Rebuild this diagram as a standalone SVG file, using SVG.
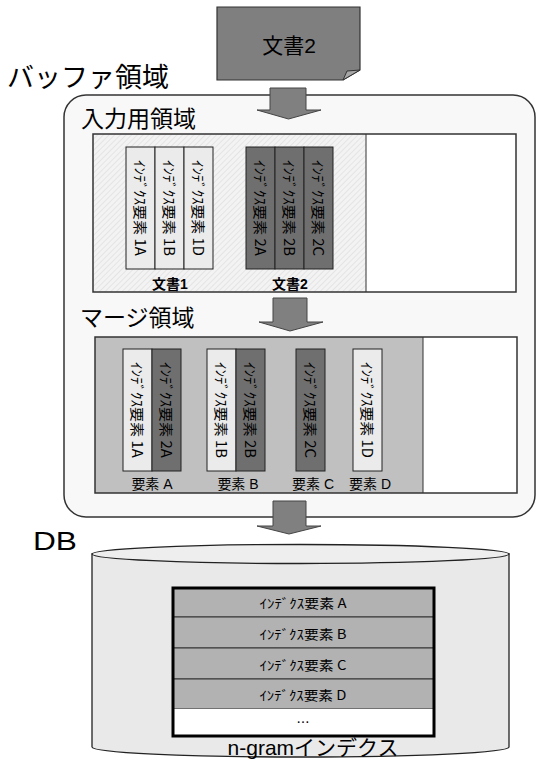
<svg xmlns="http://www.w3.org/2000/svg" width="536" height="760" viewBox="0 0 536 760">
<defs>
<pattern id="hatch" width="4" height="4" patternUnits="userSpaceOnUse" patternTransform="rotate(45)">
<rect width="4" height="4" fill="#f3f3f3"/>
<line x1="0" y1="0" x2="0" y2="4" stroke="#d6d6d6" stroke-width="1"/>
</pattern>
<style>
text{font-family:"Liberation Sans","Noto Sans CJK JP",sans-serif;fill:#000}
.big{font-size:27px}
.mid{font-size:23px}
.vt{font-family:"Noto Sans CJK JP",sans-serif;font-size:14px;dominant-baseline:central}
.lbl{font-size:14px;text-anchor:middle}
.row{font-family:"Noto Sans CJK JP",sans-serif;font-size:13px;text-anchor:middle;dominant-baseline:central}
.light{fill:#ebebeb;stroke:#222;stroke-width:1}
.dark{fill:#6f6f6f;stroke:#222;stroke-width:1}
.arrow{fill:#808080;stroke:#444;stroke-width:1}
.rowbox{fill:#b2b2b2;stroke:#333;stroke-width:1}
</style>
</defs>
<rect width="536" height="760" fill="#fff"/>

<g id="buffer">
<rect x="64" y="95" width="471" height="422" rx="22" fill="#f8f8f8" stroke="#333" stroke-width="1.5"/>
<text class="big" x="7" y="87">バッファ領域</text>
</g>

<g id="doc2">
<path d="M217,7 H360 V70 L343,80 H217 Z" fill="#7f7f7f" stroke="#333" stroke-width="1.2"/>
<path d="M360,70 L343,80 L347,71 Z" fill="#a6a6a6" stroke="#333" stroke-width="1"/>
<text x="289" y="53" font-size="21" text-anchor="middle">文書2</text>
</g>

<g id="input-area">
<text class="mid" x="81" y="127">入力用領域</text>
<rect x="93" y="134" width="273" height="158" fill="url(#hatch)"/>
<rect x="366" y="134" width="150" height="158" fill="#fff"/>
<rect x="93" y="134" width="423" height="158" fill="none" stroke="#333" stroke-width="1.5"/>
<line x1="366" y1="134" x2="366" y2="292" stroke="#333" stroke-width="1"/>
<rect class="light" x="126" y="147" width="29" height="122"/>
<rect class="light" x="155" y="147" width="29" height="122"/>
<rect class="light" x="184" y="147" width="29" height="122"/>
<text class="vt" transform="translate(140.5,160) rotate(90)" textLength="96" lengthAdjust="spacingAndGlyphs">ｲﾝﾃﾞｸｽ要素 1A</text>
<text class="vt" transform="translate(169.5,160) rotate(90)" textLength="96" lengthAdjust="spacingAndGlyphs">ｲﾝﾃﾞｸｽ要素 1B</text>
<text class="vt" transform="translate(198.5,160) rotate(90)" textLength="96" lengthAdjust="spacingAndGlyphs">ｲﾝﾃﾞｸｽ要素 1D</text>
<rect class="dark" x="246" y="147" width="29" height="122"/>
<rect class="dark" x="275" y="147" width="29" height="122"/>
<rect class="dark" x="304" y="147" width="29" height="122"/>
<text class="vt" transform="translate(260.5,160) rotate(90)" textLength="96" lengthAdjust="spacingAndGlyphs">ｲﾝﾃﾞｸｽ要素 2A</text>
<text class="vt" transform="translate(289.5,160) rotate(90)" textLength="96" lengthAdjust="spacingAndGlyphs">ｲﾝﾃﾞｸｽ要素 2B</text>
<text class="vt" transform="translate(318.5,160) rotate(90)" textLength="96" lengthAdjust="spacingAndGlyphs">ｲﾝﾃﾞｸｽ要素 2C</text>
<text class="lbl" x="170" y="289" font-weight="bold">文書1</text>
<text class="lbl" x="290" y="289" font-weight="bold">文書2</text>
</g>

<g id="merge-area">
<text class="mid" x="80" y="326">マージ領域</text>
<rect x="95" y="337" width="328" height="156" fill="#c0c0c0"/>
<rect x="423" y="337" width="94" height="156" fill="#fff"/>
<rect x="95" y="337" width="422" height="156" fill="none" stroke="#333" stroke-width="1.5"/>
<line x1="423" y1="337" x2="423" y2="493" stroke="#333" stroke-width="1"/>
<rect class="light" x="123" y="349" width="29" height="122"/>
<rect class="dark" x="152" y="349" width="29" height="122"/>
<text class="vt" transform="translate(137.5,362) rotate(90)" textLength="96" lengthAdjust="spacingAndGlyphs">ｲﾝﾃﾞｸｽ要素 1A</text>
<text class="vt" transform="translate(166.5,362) rotate(90)" textLength="96" lengthAdjust="spacingAndGlyphs">ｲﾝﾃﾞｸｽ要素 2A</text>
<rect class="light" x="207" y="349" width="29" height="122"/>
<rect class="dark" x="236" y="349" width="29" height="122"/>
<text class="vt" transform="translate(221.5,362) rotate(90)" textLength="96" lengthAdjust="spacingAndGlyphs">ｲﾝﾃﾞｸｽ要素 1B</text>
<text class="vt" transform="translate(250.5,362) rotate(90)" textLength="96" lengthAdjust="spacingAndGlyphs">ｲﾝﾃﾞｸｽ要素 2B</text>
<rect class="dark" x="296" y="349" width="29" height="122"/>
<text class="vt" transform="translate(310.5,362) rotate(90)" textLength="96" lengthAdjust="spacingAndGlyphs">ｲﾝﾃﾞｸｽ要素 2C</text>
<rect class="light" x="353" y="349" width="29" height="122"/>
<text class="vt" transform="translate(367.5,362) rotate(90)" textLength="96" lengthAdjust="spacingAndGlyphs">ｲﾝﾃﾞｸｽ要素 1D</text>
<text class="lbl" x="152" y="489">要素 A</text>
<text class="lbl" x="238" y="489">要素 B</text>
<text class="lbl" x="313" y="489">要素 C</text>
<text class="lbl" x="370" y="489">要素 D</text>
</g>

<g id="db">
<text x="33" y="550" font-size="25" textLength="44" lengthAdjust="spacingAndGlyphs">DB</text>
<path d="M92,554 V747 A208.5,10 0 0 0 509,747 V554 Z" fill="#e9e9e9" stroke="#222" stroke-width="1.3"/>
<ellipse cx="300.5" cy="554" rx="208.5" ry="9.5" fill="#eeeeee" stroke="#222" stroke-width="1.3"/>
<rect class="rowbox" x="173" y="588" width="261" height="29"/>
<rect class="rowbox" x="173" y="617" width="261" height="31"/>
<rect class="rowbox" x="173" y="648" width="261" height="31"/>
<rect class="rowbox" x="173" y="679" width="261" height="30"/>
<rect x="173" y="709" width="261" height="27" fill="#fff"/>
<rect x="173" y="588" width="261" height="148" fill="none" stroke="#000" stroke-width="3"/>
<text class="row" x="303" y="602" textLength="87" lengthAdjust="spacingAndGlyphs">ｲﾝﾃﾞｸｽ要素 A</text>
<text class="row" x="303" y="633" textLength="87" lengthAdjust="spacingAndGlyphs">ｲﾝﾃﾞｸｽ要素 B</text>
<text class="row" x="303" y="664" textLength="87" lengthAdjust="spacingAndGlyphs">ｲﾝﾃﾞｸｽ要素 C</text>
<text class="row" x="303" y="694" textLength="87" lengthAdjust="spacingAndGlyphs">ｲﾝﾃﾞｸｽ要素 D</text>
<text class="row" x="303" y="721">…</text>
<text x="313" y="755" font-size="21" text-anchor="middle">n-gramインデクス</text>
</g>

<g id="connectors">
<path class="arrow" d="M270,88 H306 V110 H321 L288.5,119 L257,110 H270 Z"/>
<path class="arrow" d="M273,298 H307 V322 H323 L290,331 L259,322 H273 Z"/>
<path class="arrow" d="M273,501 H306 V526 H321 L289,534 L257,526 H273 Z"/>
</g>
</svg>
